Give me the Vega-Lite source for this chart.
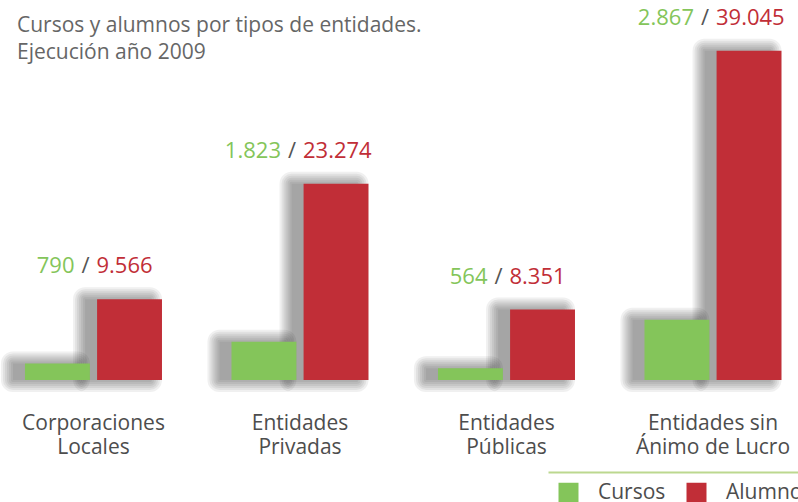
{
  "$schema": "https://vega.github.io/schema/vega-lite/v6.json",
  "width": 798,
  "height": 380,
  "autosize": {"type": "none"},
  "padding": {"left": 0, "top": 0, "right": 0, "bottom": 122},
  "background": "#ffffff",
  "title": {
    "text": ["Cursos y alumnos por tipos de entidades.", "Ejecución año 2009"],
    "anchor": "start",
    "frame": "group",
    "orient": "top",
    "offset": 0,
    "baseline": "top",
    "dx": 17,
    "dy": 63,
    "font": "Open Sans",
    "fontSize": 21,
    "fontWeight": "normal",
    "color": "#666666",
    "lineHeight": 27
  },
  "data": {
    "values": [
      {"entidad": "Corporaciones Locales", "cursos": 790, "alumnos": 9566},
      {"entidad": "Entidades Privadas", "cursos": 1823, "alumnos": 23274},
      {"entidad": "Entidades Públicas", "cursos": 564, "alumnos": 8351},
      {"entidad": "Entidades sin Ánimo de Lucro", "cursos": 2867, "alumnos": 39045}
    ]
  },
  "encoding": {
    "x": {
      "field": "entidad",
      "type": "nominal",
      "sort": null,
      "title": null,
      "scale": {"paddingInner": 0.3366, "paddingOuter": 0.1005, "align": 0.602},
      "axis": {
        "offset": 92,
        "domain": true,
        "domainColor": "#bcd88f",
        "domainWidth": 2,
        "domainDash": [250, 548],
        "domainDashOffset": 250,
        "ticks": false,
        "labelAngle": 0,
        "labelFont": "Open Sans",
        "labelFontSize": 21,
        "labelColor": "#4d4d4d",
        "labelPadding": -60,
        "labelLineHeight": 24,
        "labelExpr": "datum.value == 'Entidades sin Ánimo de Lucro' ? ['Entidades sin', 'Ánimo de Lucro'] : split(datum.value, ' ')"
      }
    }
  },
  "layer": [
    {"mark": {"type": "bar", "color": "#000000", "stroke": "#000000", "strokeWidth": 24, "strokeJoin": "round", "opacity": 0.055},
     "encoding": {"xOffset": {"datum": "Cursos", "scale": {"domain": ["Cursos", "Alumnos"], "paddingInner": 0.1, "paddingOuter": 0, "range": [-12, 125]}},
                  "y": {"field": "cursos", "type": "quantitative", "scale": {"domain": [0, 18080], "nice": false}, "axis": null}}},
    {"mark": {"type": "bar", "color": "#000000", "stroke": "#000000", "strokeWidth": 20, "strokeJoin": "round", "opacity": 0.055},
     "encoding": {"xOffset": {"datum": "Cursos", "scale": {"domain": ["Cursos", "Alumnos"], "paddingInner": 0.1, "paddingOuter": 0, "range": [-12, 125]}},
                  "y": {"field": "cursos", "type": "quantitative", "scale": {"domain": [0, 18080], "nice": false}, "axis": null}}},
    {"mark": {"type": "bar", "color": "#000000", "stroke": "#000000", "strokeWidth": 16, "strokeJoin": "round", "opacity": 0.055},
     "encoding": {"xOffset": {"datum": "Cursos", "scale": {"domain": ["Cursos", "Alumnos"], "paddingInner": 0.1, "paddingOuter": 0, "range": [-12, 125]}},
                  "y": {"field": "cursos", "type": "quantitative", "scale": {"domain": [0, 18080], "nice": false}, "axis": null}}},
    {"mark": {"type": "bar", "color": "#000000", "stroke": "#000000", "strokeWidth": 12, "strokeJoin": "round", "opacity": 0.055},
     "encoding": {"xOffset": {"datum": "Cursos", "scale": {"domain": ["Cursos", "Alumnos"], "paddingInner": 0.1, "paddingOuter": 0, "range": [-12, 125]}},
                  "y": {"field": "cursos", "type": "quantitative", "scale": {"domain": [0, 18080], "nice": false}, "axis": null}}},
    {"mark": {"type": "bar", "color": "#000000", "stroke": "#000000", "strokeWidth": 8, "strokeJoin": "round", "opacity": 0.055},
     "encoding": {"xOffset": {"datum": "Cursos", "scale": {"domain": ["Cursos", "Alumnos"], "paddingInner": 0.1, "paddingOuter": 0, "range": [-12, 125]}},
                  "y": {"field": "cursos", "type": "quantitative", "scale": {"domain": [0, 18080], "nice": false}, "axis": null}}},
    {"mark": {"type": "bar", "color": "#000000", "stroke": "#000000", "strokeWidth": 4, "strokeJoin": "round", "opacity": 0.055},
     "encoding": {"xOffset": {"datum": "Cursos", "scale": {"domain": ["Cursos", "Alumnos"], "paddingInner": 0.1, "paddingOuter": 0, "range": [-12, 125]}},
                  "y": {"field": "cursos", "type": "quantitative", "scale": {"domain": [0, 18080], "nice": false}, "axis": null}}},
    {"mark": {"type": "bar", "color": "#000000", "opacity": 0.055},
     "encoding": {"xOffset": {"datum": "Cursos", "scale": {"domain": ["Cursos", "Alumnos"], "paddingInner": 0.1, "paddingOuter": 0, "range": [-12, 125]}},
                  "y": {"field": "cursos", "type": "quantitative", "scale": {"domain": [0, 18080], "nice": false}, "axis": null}}},
    {"mark": {"type": "bar", "color": "#000000", "stroke": "#000000", "strokeWidth": 24, "strokeJoin": "round", "opacity": 0.055},
     "encoding": {"xOffset": {"datum": "Alumnos", "scale": {"domain": ["Cursos", "Alumnos"], "paddingInner": 0.1, "paddingOuter": 0, "range": [-12, 125]}},
                  "y": {"field": "alumnos", "type": "quantitative", "scale": {"domain": [0, 45060], "nice": false}, "axis": null}}},
    {"mark": {"type": "bar", "color": "#000000", "stroke": "#000000", "strokeWidth": 20, "strokeJoin": "round", "opacity": 0.055},
     "encoding": {"xOffset": {"datum": "Alumnos", "scale": {"domain": ["Cursos", "Alumnos"], "paddingInner": 0.1, "paddingOuter": 0, "range": [-12, 125]}},
                  "y": {"field": "alumnos", "type": "quantitative", "scale": {"domain": [0, 45060], "nice": false}, "axis": null}}},
    {"mark": {"type": "bar", "color": "#000000", "stroke": "#000000", "strokeWidth": 16, "strokeJoin": "round", "opacity": 0.055},
     "encoding": {"xOffset": {"datum": "Alumnos", "scale": {"domain": ["Cursos", "Alumnos"], "paddingInner": 0.1, "paddingOuter": 0, "range": [-12, 125]}},
                  "y": {"field": "alumnos", "type": "quantitative", "scale": {"domain": [0, 45060], "nice": false}, "axis": null}}},
    {"mark": {"type": "bar", "color": "#000000", "stroke": "#000000", "strokeWidth": 12, "strokeJoin": "round", "opacity": 0.055},
     "encoding": {"xOffset": {"datum": "Alumnos", "scale": {"domain": ["Cursos", "Alumnos"], "paddingInner": 0.1, "paddingOuter": 0, "range": [-12, 125]}},
                  "y": {"field": "alumnos", "type": "quantitative", "scale": {"domain": [0, 45060], "nice": false}, "axis": null}}},
    {"mark": {"type": "bar", "color": "#000000", "stroke": "#000000", "strokeWidth": 8, "strokeJoin": "round", "opacity": 0.055},
     "encoding": {"xOffset": {"datum": "Alumnos", "scale": {"domain": ["Cursos", "Alumnos"], "paddingInner": 0.1, "paddingOuter": 0, "range": [-12, 125]}},
                  "y": {"field": "alumnos", "type": "quantitative", "scale": {"domain": [0, 45060], "nice": false}, "axis": null}}},
    {"mark": {"type": "bar", "color": "#000000", "stroke": "#000000", "strokeWidth": 4, "strokeJoin": "round", "opacity": 0.055},
     "encoding": {"xOffset": {"datum": "Alumnos", "scale": {"domain": ["Cursos", "Alumnos"], "paddingInner": 0.1, "paddingOuter": 0, "range": [-12, 125]}},
                  "y": {"field": "alumnos", "type": "quantitative", "scale": {"domain": [0, 45060], "nice": false}, "axis": null}}},
    {"mark": {"type": "bar", "color": "#000000", "opacity": 0.055},
     "encoding": {"xOffset": {"datum": "Alumnos", "scale": {"domain": ["Cursos", "Alumnos"], "paddingInner": 0.1, "paddingOuter": 0, "range": [-12, 125]}},
                  "y": {"field": "alumnos", "type": "quantitative", "scale": {"domain": [0, 45060], "nice": false}, "axis": null}}},
    {"mark": {"type": "bar"},
     "encoding": {"xOffset": {"datum": "Cursos", "scale": {"domain": ["Cursos", "Alumnos"], "paddingInner": 0.1, "paddingOuter": 0}},
                  "y": {"field": "cursos", "type": "quantitative", "scale": {"domain": [0, 18080], "nice": false}, "axis": null},
                  "color": {"datum": "Cursos",
                            "scale": {"domain": ["Cursos", "Alumnos"], "range": ["#84c55a", "#c12e37"]},
                            "legend": {
                              "title": null,
                              "orient": "none",
                              "legendX": 548,
                              "legendY": 472,
                              "direction": "horizontal",
                              "symbolType": "square",
                              "symbolSize": 400,
                              "symbolStrokeWidth": 0,
                              "symbolOpacity": 1,
                              "labelFont": "Open Sans",
                              "labelFontSize": 21,
                              "labelColor": "#4d4d4d",
                              "labelOffset": 19,
                              "columnPadding": 20,
                              "padding": 10
                            }}}},
    {"mark": {"type": "bar"},
     "encoding": {"xOffset": {"datum": "Alumnos", "scale": {"domain": ["Cursos", "Alumnos"], "paddingInner": 0.1, "paddingOuter": 0}},
                  "y": {"field": "alumnos", "type": "quantitative", "scale": {"domain": [0, 45060], "nice": false}, "axis": null},
                  "color": {"datum": "Alumnos"}}},
    {"mark": {"type": "text", "font": "Open Sans", "fontSize": 22, "color": "#84c55a", "align": "right", "baseline": "alphabetic", "dx": -19, "dy": -26},
     "encoding": {"y": {"field": "alumnos", "type": "quantitative", "scale": {"domain": [0, 45060], "nice": false}, "axis": null},
                  "text": {"field": "cursos", "type": "quantitative", "format": ","}}},
    {"mark": {"type": "text", "font": "Open Sans", "fontSize": 22, "color": "#555555", "align": "center", "baseline": "alphabetic", "dx": -8, "dy": -26, "text": "/"},
     "encoding": {"y": {"field": "alumnos", "type": "quantitative", "scale": {"domain": [0, 45060], "nice": false}, "axis": null}}},
    {"mark": {"type": "text", "font": "Open Sans", "fontSize": 22, "color": "#c12e37", "align": "left", "baseline": "alphabetic", "dx": 3, "dy": -26},
     "encoding": {"y": {"field": "alumnos", "type": "quantitative", "scale": {"domain": [0, 45060], "nice": false}, "axis": null},
                  "text": {"field": "alumnos", "type": "quantitative", "format": ","}}}
  ],
  "resolve": {"scale": {"y": "independent", "xOffset": "independent"}},
  "config": {
    "view": {"stroke": null},
    "locale": {"number": {"decimal": ",", "thousands": ".", "grouping": [3], "currency": ["", " €"]}}
  }
}
